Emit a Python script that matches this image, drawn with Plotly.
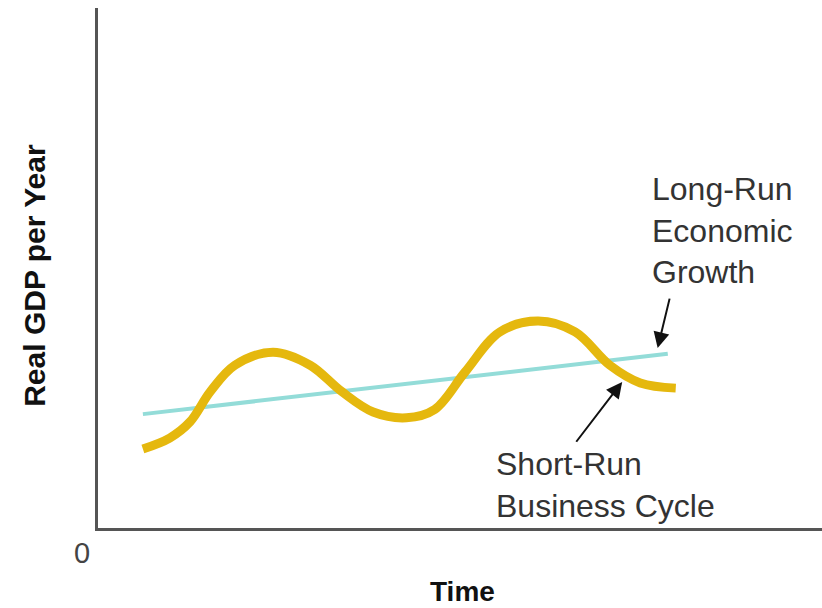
import plotly.graph_objects as go

# Time axis (arbitrary units) and Real GDP values
trend_time = [6.2, 78.7]
trend_gdp = [21.9, 33.5]

cycle_time = [6.2, 9.9, 12.7, 15.5, 18.9, 24.2, 29.3, 33.6, 38.0, 42.6,
              46.5, 50.7, 55.5, 60.8, 65.9, 70.7, 74.9, 79.8]
cycle_gdp = [15.2, 17.3, 20.4, 26.2, 31.3, 33.8, 31.3, 26.3, 22.3, 21.2,
             22.8, 30.0, 37.7, 39.8, 37.7, 31.3, 27.9, 26.9]

FONT = "Liberation Sans, Arial, Helvetica, sans-serif"
TEXT = "#333333"

fig = go.Figure()

fig.add_trace(go.Scatter(
    x=trend_time, y=trend_gdp, mode="lines",
    line=dict(color="#93DCD8", width=4),
    hoverinfo="skip", showlegend=False,
))
fig.add_trace(go.Scatter(
    x=cycle_time, y=cycle_gdp, mode="lines",
    line=dict(color="#E5B80E", width=9, shape="spline", smoothing=1.0),
    hoverinfo="skip", showlegend=False,
))

# Label text blocks
fig.add_annotation(
    x=76.3, y=57.3, xref="x", yref="y", xanchor="left", yanchor="middle",
    text="Long-Run<br>Economic<br>Growth", showarrow=False, align="left",
    font=dict(family=FONT, size=32, color=TEXT),
)
fig.add_annotation(
    x=54.7, y=8.3, xref="x", yref="y", xanchor="left", yanchor="middle",
    text="Short-Run<br>Business Cycle", showarrow=False, align="left",
    font=dict(family=FONT, size=32, color=TEXT),
)

# Arrows pointing at the two curves
fig.add_annotation(
    x=77.3, y=34.6, ax=79.0, ay=44.4, xref="x", yref="y", axref="x", ayref="y",
    text="", showarrow=True, arrowhead=2, arrowsize=1.6, arrowwidth=2,
    arrowcolor="#111111",
)
fig.add_annotation(
    x=72.4, y=28.1, ax=65.9, ay=16.3, xref="x", yref="y", axref="x", ayref="y",
    text="", showarrow=True, arrowhead=2, arrowsize=1.6, arrowwidth=2,
    arrowcolor="#111111",
)

# Origin marker and axis titles
fig.add_annotation(
    x=-0.022, y=-0.048, xref="paper", yref="paper", xanchor="center", yanchor="middle",
    text="0", showarrow=False, font=dict(family=FONT, size=29, color="#444444"),
)
fig.add_annotation(
    x=0.504, y=-0.122, xref="paper", yref="paper", xanchor="center", yanchor="middle",
    text="<b>Time</b>", showarrow=False, font=dict(family=FONT, size=28, color="#111111"),
)
fig.add_annotation(
    x=-0.087, y=0.485, xref="paper", yref="paper", xanchor="center", yanchor="middle",
    text="<b>Real GDP per Year</b>", textangle=-90, showarrow=False,
    font=dict(family=FONT, size=30, color="#111111"),
)

fig.update_xaxes(range=[0, 100], showline=True, linecolor="#555555", linewidth=3,
                 showgrid=False, zeroline=False, showticklabels=False, ticks="")
fig.update_yaxes(range=[0, 100], showline=True, linecolor="#555555", linewidth=3,
                 showgrid=False, zeroline=False, showticklabels=False, ticks="")

fig.update_layout(
    width=822, height=608,
    margin=dict(l=98, r=0, t=8, b=80),
    paper_bgcolor="white", plot_bgcolor="white",
)

fig.write_html("out.html")
